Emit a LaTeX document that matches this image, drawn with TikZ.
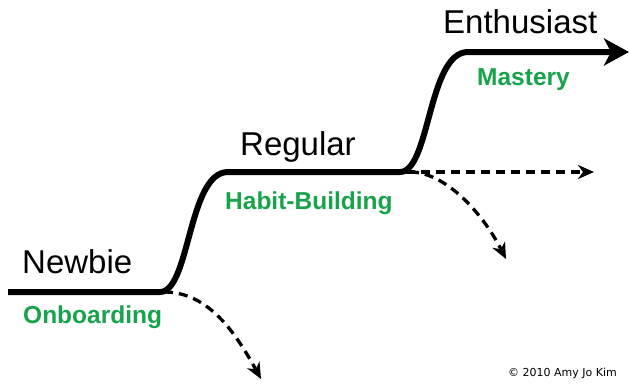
\documentclass[tikz,border=0pt]{standalone}
\usepackage{fontspec}
\setmainfont{Liberation Sans}
\newfontfamily\notefont{DejaVu Sans}
\usetikzlibrary{arrows.meta}
\definecolor{stagegreen}{RGB}{22,163,74}

\begin{document}
\begin{tikzpicture}[
                        x=1pt,
                        y=-1pt,
                        stage/.style={anchor=base west,inner sep=0pt,font=\fontsize{33}{36}\selectfont},
                        phase/.style={anchor=base west,inner sep=0pt,text=stagegreen,font=\fontsize{24.5}{28}\selectfont\bfseries},
                        path main/.style={line width=6pt,-{Stealth[length=25pt,width=27pt,inset=7pt]}},
                        path drop/.style={line width=3.3pt,dash pattern=on 9pt off 6pt,-{Stealth[length=16pt,width=14pt,inset=5pt]}}
                    ]
                    \useasboundingbox (0,0) rectangle (629,383);

                    % points on the path
                    \coordinate (start)  at (8,292);
                    \coordinate (step1)  at (160,292);
                    \coordinate (flat1)  at (228,172);
                    \coordinate (step2)  at (400,172);
                    \coordinate (flat2)  at (468,52);
                    \coordinate (goal)   at (629,52);

                    % where the dropouts end
                    \coordinate (quit1)  at (261,379);
                    \coordinate (stay2)  at (594,172);
                    \coordinate (quit2)  at (506,259);

                    \node[stage] (newbie)     at (22,273)  {Newbie} ;
                    \node[phase] (onboarding) at (23,323)  {Onboarding} ;
                    \node[stage] (regular)    at (240,155) {Regular} ;
                    \node[phase] (habit)      at (225,209) {Habit-Building} ;
                    \node[stage] (enthusiast) at (443,33)  {Enthusiast} ;
                    \node[phase] (mastery)    at (477,85)  {Mastery} ;
                    \node[anchor=base east,inner sep=0pt,font=\notefont\fontsize{11}{13}\selectfont]
                                 (credit)     at (617,376) {© 2010 Amy Jo Kim} ;

                    \draw[path main] (start) -- (step1)
                        .. controls (190,292) and (188,172) .. (flat1) -- (step2)
                        .. controls (430,172) and (428,52) .. (flat2) -- (goal) ;

                    \draw[path drop] (step1) ++(4,0) .. controls (205,292) and (232,326) .. (quit1) ;
                    \draw[path drop] (step2) ++(6,0) -- (stay2) ;
                    \draw[path drop] (step2) ++(10,0) .. controls (445,172) and (482,212) .. (quit2) ;
                \end{tikzpicture}
\end{document}
